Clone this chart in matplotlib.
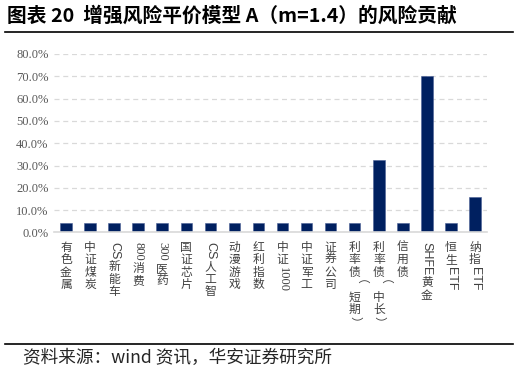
import re
import matplotlib
matplotlib.use('Agg')
import matplotlib.pyplot as plt
from matplotlib.textpath import TextPath
from matplotlib.font_manager import FontProperties
from matplotlib.lines import Line2D

plt.rcParams['font.family'] = ['Noto Sans CJK SC', 'DejaVu Sans']

# 数据
categories = ['有色金属', '中证煤炭', 'CS新能车', '800消费', '300医药', '国证芯片',
              'CS人工智', '动漫游戏', '红利指数', '中证1000', '中证军工', '证券公司',
              '利率债（短期）', '利率债（中长）', '信用债', 'SHFE黄金', '恒生ETF', '纳指ETF']
risk_contrib = [4.1, 4.1, 4.1, 4.1, 4.1, 4.1, 4.1, 4.1, 4.1, 4.1, 4.1, 4.1,
                4.1, 32.4, 4.1, 70.0, 4.1, 15.8]
yticks = [0, 10, 20, 30, 40, 50, 60, 70, 80]

bar_color = '#002060'
grid_color = '#d9d9d9'
tick_color = '#404040'

fig = plt.figure(figsize=(5.19, 3.87), dpi=100)
W, H = 519, 387
ax = fig.add_axes([54 / W, 1 - 232.5 / H, 433 / W, (232.5 - 54) / H])

x = list(range(len(categories)))
ax.bar(x, risk_contrib, width=0.48, color=bar_color, edgecolor='#4a5f95', linewidth=0.4, zorder=3)
ax.set_xlim(-0.5, len(categories) - 0.5)
ax.set_ylim(0, 80)
ax.set_yticks(yticks)
ax.set_yticklabels(['%.1f%%' % v for v in yticks], family='Liberation Serif',
                   fontsize=9, color='#595959')
ax.tick_params(axis='y', length=0, pad=4)
ax.tick_params(axis='x', length=0, labelbottom=False)
ax.grid(axis='y', color=grid_color, linestyle=(0, (4, 3)), linewidth=0.9, zorder=0)
for s in ['top', 'right', 'left']:
    ax.spines[s].set_visible(False)
ax.spines['bottom'].set_color(grid_color)
ax.spines['bottom'].set_linewidth(1.2)
ax.spines['bottom'].set_zorder(4)


# 竖排标签：汉字直立，字母数字顺时针旋转
def vlabel(ax, xpos, text, fs=8.5, ascii_fs=9.0):
    off = 6.0
    for seg in re.findall(r'[0-9]+|[A-Za-z]+|.', text):
        if seg.isascii():
            fam = 'Liberation Serif' if seg.isdigit() else 'Liberation Sans'
            w = TextPath((0, 0), seg, size=ascii_fs,
                         prop=FontProperties(family=fam)).get_extents().width
            L = w + 2.5
            kw = dict(rotation=-90, fontsize=ascii_fs, family=fam)
        elif seg in '（）':
            L = 9.0
            kw = dict(rotation=-90, fontsize=fs)
        else:
            L = 9.0
            kw = dict(rotation=0, fontsize=fs)
        ax.annotate(seg, xy=(xpos, 0), xycoords=('data', 'axes fraction'),
                    xytext=(0, -(off + L / 2)), textcoords='offset points',
                    ha='center', va='center', color=tick_color, **kw)
        off += L


for i, c in enumerate(categories):
    vlabel(ax, i, c)

# 标题和来源
fig.text(7 / W, 1 - 16 / H, '图表 20  增强风险平价模型 A（m=1.4）的风险贡献',
         fontsize=14.2, fontweight='bold', color='black', va='center', ha='left')
fig.add_artist(Line2D([5 / W, 513 / W], [1 - 31.5 / H, 1 - 31.5 / H],
                      color='black', linewidth=1.2))
fig.add_artist(Line2D([5 / W, 513 / W], [1 - 344 / H, 1 - 344 / H],
                      color='black', linewidth=1.2))
fig.text(23 / W, 1 - 358 / H, '资料来源：wind 资讯，华安证券研究所',
         fontsize=12.7, color='#262626', va='center', ha='left')

fig.savefig('out.png', dpi=100)
